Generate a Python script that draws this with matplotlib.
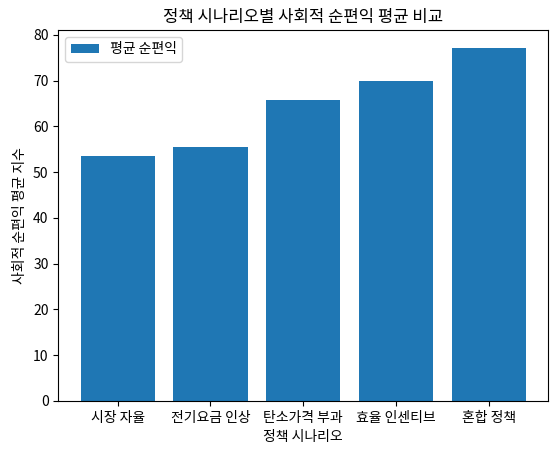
import matplotlib
matplotlib.use('Agg')
import matplotlib.pyplot as plt

plt.rcParams['font.family'] = ['Noto Sans CJK KR', 'DejaVu Sans']

scenarios = ['시장 자율', '전기요금 인상', '탄소가격 부과', '효율 인센티브', '혼합 정책']
avg_benefit = [53.5, 55.5, 65.8, 70.0, 77.2]

fig, ax = plt.subplots(figsize=(5.6, 4.54), dpi=100)
ax.bar(scenarios, avg_benefit, color='#1f77b4', label='평균 순편익')
ax.set_title('정책 시나리오별 사회적 순편익 평균 비교')
ax.set_xlabel('정책 시나리오')
ax.set_ylabel('사회적 순편익 평균 지수')
ax.legend(loc='upper left')
fig.subplots_adjust(left=0.104, right=0.979, top=0.934, bottom=0.117)
fig.savefig('out.png')
